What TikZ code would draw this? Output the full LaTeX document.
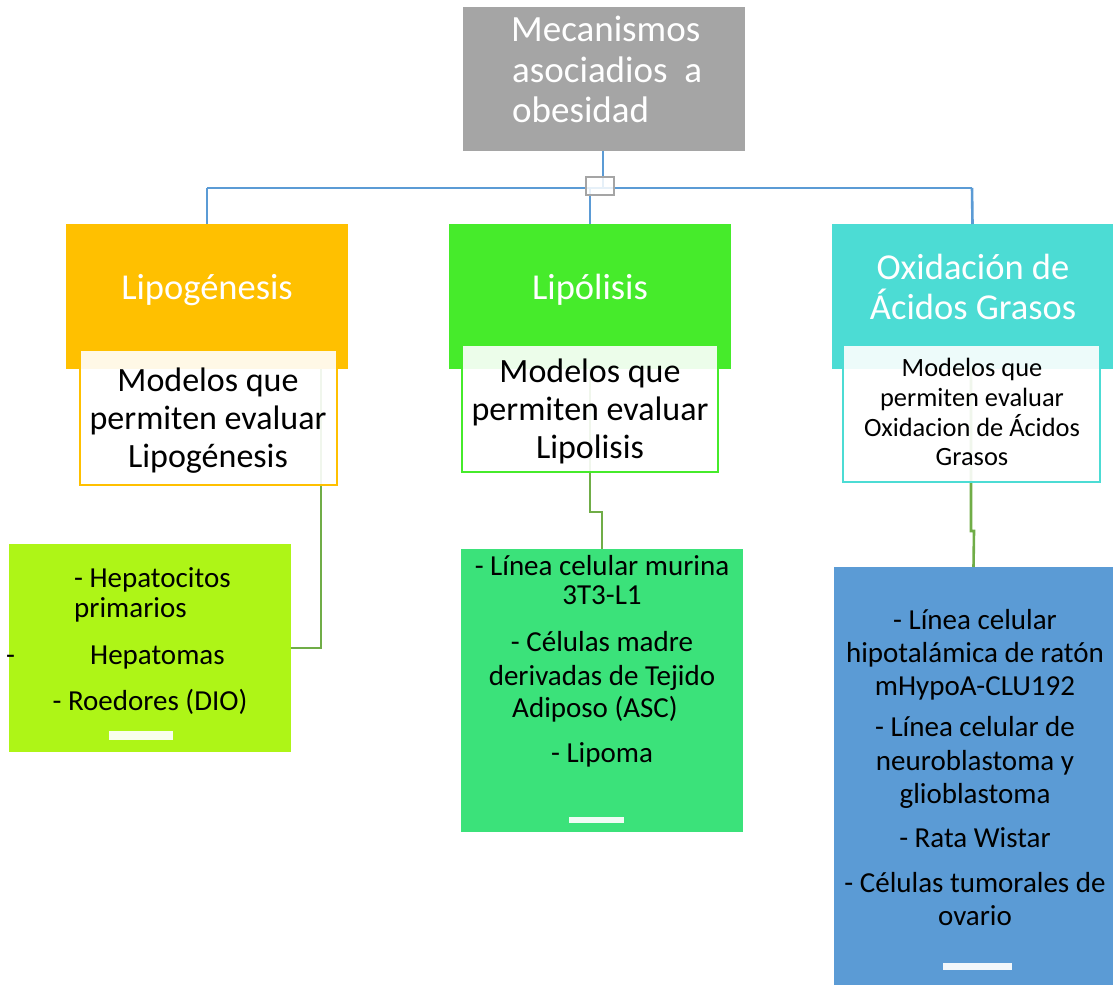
\documentclass[tikz,border=0pt]{standalone}
\usepackage{fontspec}
\setmainfont{Carlito}
\definecolor{cgray}{HTML}{A5A5A5}
\definecolor{corange}{HTML}{FFC000}
\definecolor{cgreen}{HTML}{46EB2B}
\definecolor{cturq}{HTML}{4CDCD4}
\definecolor{clime}{HTML}{AEF517}
\definecolor{cgreenb}{HTML}{3BE27A}
\definecolor{cblue}{HTML}{5B9BD5}
\definecolor{cline}{HTML}{5B9BD5}
\definecolor{cgline}{HTML}{70AD47}
\begin{document}
\begin{tikzpicture}[x=1pt,y=-1pt,
  boxnw/.style={draw=none, anchor=north west, inner sep=0pt, outer sep=0pt},
  hdr/.style={boxnw, minimum width=282pt, minimum height=145pt},
  wbox/.style={boxnw, fill=white, fill opacity=0.9, line width=2pt},
  bline/.style={draw=cline, line width=2.6pt},
  gline/.style={draw=cgline, line width=2.6pt},
  bar/.style={boxnw, fill=white, fill opacity=0.92},
  toptxt/.style={text=white, font=\fontsize{37}{40}\selectfont, inner sep=0pt, anchor=base west},
  hdrtxt/.style={text=white, font=\fontsize{36.5}{40}\selectfont, inner sep=0pt, anchor=base},
  midtxt/.style={text=black, font=\fontsize{34}{38}\selectfont, inner sep=0pt, anchor=base},
  smalltxt/.style={text=black, font=\fontsize{26.4}{30}\selectfont, inner sep=0pt, anchor=base},
  listtxt/.style={text=black, font=\fontsize{29}{33}\selectfont, inner sep=0pt, anchor=base},
]
\useasboundingbox (0,0) rectangle (1113,985);

% top box
\node[boxnw, fill=cgray, minimum width=282pt, minimum height=144pt] (top) at (463,7) {};

% headers
\node[hdr, fill=corange] (h1) at (66,224) {};
\node[hdr, fill=cgreen] (h2) at (449,224) {};
\node[hdr, fill=cturq, minimum width=281pt] (h3) at (832,224) {};

% bottom boxes
\node[boxnw, fill=clime, minimum width=282pt, minimum height=208pt] (b1) at (9,544) {};
\node[boxnw, fill=cgreenb, minimum width=282pt, minimum height=283pt] (b2) at (461,549) {};
\node[boxnw, fill=cblue, minimum width=279pt, minimum height=418pt] (b3) at (834,567) {};

% top connectors
\coordinate (j0) at (603,188);
\coordinate (jL) at (207,188);
\coordinate (jR) at (972,188);
\coordinate (jM) at (590,188);
\draw[bline] (top.south -| j0) -- (j0);
\draw[bline] (jL) -- (jR);
\draw[bline] (jL) -- (h1.north);
\draw[bline] (jM) -- (h2.north);
\draw[bline] (jR) -- (h3.north);
\node[draw=cgray, fill=white, fill opacity=0.85, line width=2.4pt, minimum width=28pt, minimum height=18pt, inner sep=0pt] (sq) at (600,186) {};

% green connectors (under the white boxes)
\coordinate (g1) at (321,369);
\draw[gline] (g1) |- (b1.east);
\coordinate (g2) at (590,369);
\draw[gline] (g2) -- (590,512) -- (602,512) -- (b2.north);
\coordinate (g3) at (971,369);
\draw[gline] (g3) -- (971,531) -- (974,531) -- (b3.north);

% white boxes
\node[wbox, draw=corange, minimum width=257pt, minimum height=135pt] (w1) at (80,350) {};
\node[wbox, draw=cgreen, minimum width=256pt, minimum height=127pt] (w2) at (462,345) {};
\node[wbox, draw=cturq, minimum width=257pt, minimum height=137pt] (w3) at (843,345) {};

% bars
\node[bar, minimum width=64pt, minimum height=9pt] (bar1) at (109,731) {};
\node[bar, minimum width=55pt, minimum height=6pt] (bar2) at (569,817) {};
\node[bar, minimum width=69pt, minimum height=7pt] (bar3) at (943,963) {};

% top text
\node[toptxt] (t1) at (511,41) {Mecanismos};
\node[toptxt] (t2) at (512,82) {asociadios\ \ a};
\node[toptxt] (t3) at (512,122) {obesidad};

% header text
\node[hdrtxt] (ht1) at (207,299) {Lipogénesis};
\node[hdrtxt] (ht2) at (590,299) {Lipólisis};
\node[hdrtxt] (ht3) at (973,279) {Oxidación de};
\node[hdrtxt] (ht4) at (973,319) {Ácidos Grasos};

% white box texts
\node[midtxt] (m1) at (208,391) {Modelos que};
\node[midtxt] (m2) at (208,429) {permiten evaluar};
\node[midtxt] (m3) at (208,467) {Lipogénesis};
\node[midtxt] (m4) at (590,382) {Modelos que};
\node[midtxt] (m5) at (590,420) {permiten evaluar};
\node[midtxt] (m6) at (590,458) {Lipolisis};
\node[smalltxt] (s1) at (972,376) {Modelos que};
\node[smalltxt] (s2) at (972,406) {permiten evaluar};
\node[smalltxt] (s3) at (972,436) {Oxidacion de Ácidos};
\node[smalltxt] (s4) at (972,465) {Grasos};

% lime list
\node[listtxt, anchor=base west] (l1) at (74,587) {- Hepatocitos};
\node[listtxt, anchor=base west] (l2) at (74,617) {primarios};
\node[listtxt, anchor=base west] (l3) at (6,664) {-};
\node[listtxt, anchor=base west] (l4) at (90,664) {Hepatomas};
\node[listtxt] (l5) at (150,710) {- Roedores (DIO)};

% green list
\node[listtxt] (g21) at (602,575) {- Línea celular murina};
\node[listtxt] (g22) at (602,604) {3T3-L1};
\node[listtxt] (g23) at (602,651) {- Células madre};
\node[listtxt] (g24) at (602,685) {derivadas de Tejido};
\node[listtxt] (g25) at (595,717) {Adiposo (ASC)};
\node[listtxt] (g26) at (602,762) {- Lipoma};

% blue list
\node[listtxt] (p1) at (975,629) {- Línea celular};
\node[listtxt] (p2) at (975,662) {hipotalámica de ratón};
\node[listtxt] (p3) at (975,695) {mHypoA-CLU192};
\node[listtxt] (p4) at (975,736) {- Línea celular de};
\node[listtxt] (p5) at (975,770) {neuroblastoma y};
\node[listtxt] (p6) at (975,803) {glioblastoma};
\node[listtxt] (p7) at (975,847) {- Rata Wistar};
\node[listtxt] (p8) at (975,892) {- Células tumorales de};
\node[listtxt] (p9) at (975,925) {ovario};
\end{tikzpicture}
\end{document}
